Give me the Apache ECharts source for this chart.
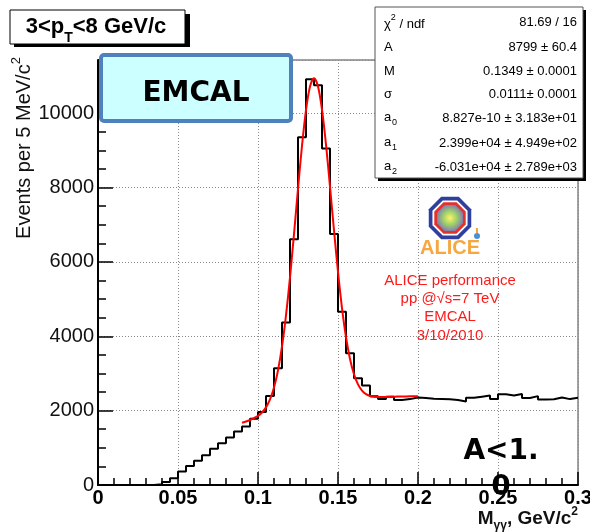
<!DOCTYPE html>
<html>
<head>
<meta charset="utf-8">
<script src="https://cdn.jsdelivr.net/npm/echarts@6/dist/echarts.min.js"></script>
<style>
  html, body { margin: 0; padding: 0; background: #fff; }
  #chart { width: 590px; height: 532px; }
</style>
</head>
<body>
<div id="chart"></div>
<script>
// Two-photon invariant mass, events per 5 MeV/c^2 bin from 0 to 0.3 GeV/c^2
const binStart = 0;
const binWidth = 0.005;
const counts = [
  0, 0, 0, 0, 0, 0, 0, 20, 80, 180,
  360, 510, 655, 800, 975, 1120, 1275, 1440, 1570, 1785,
  1960, 2395, 3140, 4370, 6610, 9350, 10910, 10750, 9050, 6750,
  4660, 3540, 2870, 2675, 2390, 2310, 2375, 2285, 2310, 2355,
  2340, 2320, 2315, 2305, 2285, 2245, 2345, 2375, 2405, 2315,
  2440, 2410, 2445, 2340, 2390, 2300, 2305, 2355, 2310, 2345
];

// Gaussian + second-order polynomial fit, sampled over the fit range
const fitMass = [
  0.09, 0.095, 0.1, 0.1025, 0.105, 0.1075, 0.11, 0.1125, 0.115, 0.1175,
  0.12, 0.1225, 0.125, 0.1275, 0.13, 0.1325, 0.135, 0.1375, 0.14, 0.1425,
  0.145, 0.1475, 0.15, 0.1525, 0.155, 0.1575, 0.16, 0.1625, 0.165, 0.1675,
  0.17, 0.1725, 0.175, 0.18, 0.185, 0.19, 0.195, 0.2
];
const fitValue = [
  1673, 1748, 1859, 1950, 2088, 2300, 2620, 3084, 3725, 4561,
  5584, 6749, 7968, 9124, 10082, 10716, 10938, 10719, 10094, 9155,
  8027, 6846, 5730, 4759, 3977, 3390, 2977, 2706, 2539, 2444,
  2395, 2372, 2364, 2366, 2374, 2381, 2385, 2386
];

const xTickValues = [0, 0.05, 0.1, 0.15, 0.2, 0.25, 0.3];
const yTickValues = [0, 2000, 4000, 6000, 8000, 10000];

const statNames = ['A', 'M', 'σ'];
const statValues = [
  '81.69 / 16', '8799 ± 60.4', '0.1349 ± 0.0001', '0.0111± 0.0001',
  '8.827e-10 ± 3.183e+01', '2.399e+04 ± 4.949e+02', '-6.031e+04 ± 2.789e+03'
];
const polyIndex = ['0', '1', '2'];
const infoLines = ['ALICE performance', 'pp @√s=7 TeV', 'EMCAL', '3/10/2010'];

const Y_MAX = 11430;
const SANS = 'Liberation Sans, Arial, Helvetica, sans-serif';
const BOLD = 'DejaVu Sans, sans-serif';

// Step outline: each bin's low edge with its content, closed at the upper edge
const histData = counts.map((c, i) => [+(binStart + i * binWidth).toFixed(4), c]);
histData.push([+(binStart + counts.length * binWidth).toFixed(4), counts[counts.length - 1]]);
const fitData = fitMass.map((m, i) => [m, fitValue[i]]);

function octagon(cx, cy, r) {
  const pts = [];
  for (let k = 0; k < 8; k++) {
    const a = Math.PI / 8 + k * Math.PI / 4;
    pts.push([cx + r * Math.cos(a), cy + r * Math.sin(a)]);
  }
  return pts;
}

const chart = echarts.init(document.getElementById('chart'), null, { renderer: 'canvas' });

const grid = { left: 98, right: 12, top: 60, bottom: 47 };
const dotted = { color: '#8a8a8a', type: [1, 2], width: 1 };

// Fit statistics box rows
const statRowsY = [22, 47, 71, 94, 118, 143, 167];
const statGraphics = [];
statGraphics.push({
  type: 'text', left: 384, top: statRowsY[0] - 9, z: 102,
  style: {
    text: '{n|χ}{s|2}{n| / ndf}', fill: '#000',
    rich: {
      n: { fontFamily: SANS, fontSize: 13, lineHeight: 18, verticalAlign: 'bottom' },
      s: { fontFamily: SANS, fontSize: 9, lineHeight: 11, verticalAlign: 'top' }
    }
  }
});
statNames.forEach((n, i) => {
  statGraphics.push({
    type: 'text', x: 384, y: statRowsY[i + 1], z: 102,
    style: { text: n, fontFamily: SANS, fontSize: 13, fill: '#000', verticalAlign: 'middle' }
  });
});
polyIndex.forEach((p, i) => {
  const y = statRowsY[i + 4];
  statGraphics.push({
    type: 'text', x: 384, y: y - 1, z: 102,
    style: { text: 'a', fontFamily: SANS, fontSize: 13, fill: '#000', verticalAlign: 'middle' }
  });
  statGraphics.push({
    type: 'text', x: 392, y: y + 5, z: 102,
    style: { text: p, fontFamily: SANS, fontSize: 9, fill: '#000', verticalAlign: 'middle' }
  });
});
statValues.forEach((v, i) => {
  statGraphics.push({
    type: 'text', x: 577, y: statRowsY[i], z: 102,
    style: { text: v, fontFamily: SANS, fontSize: 13, fill: '#000', align: 'right', verticalAlign: 'middle' }
  });
});

const infoGraphics = infoLines.map((t, i) => ({
  type: 'text', x: 450, y: [281, 299, 317, 336][i], z: 90,
  style: { text: t, fontFamily: SANS, fontSize: 15, fill: '#ff1a1a', align: 'center', verticalAlign: 'middle' }
}));

const option = {
  animation: false,
  backgroundColor: '#fff',
  grid: Object.assign({ show: true, borderColor: '#444', borderWidth: 1, containLabel: false, outerBoundsMode: 'none' }, grid),
  xAxis: [
    {
      type: 'value', min: 0, max: 0.3, interval: 0.05, position: 'bottom',
      axisLine: { show: true, onZero: false, lineStyle: { color: '#000', width: 2 } },
      axisTick: { show: true, inside: true, length: 13, lineStyle: { color: '#000', width: 1.5 } },
      axisLabel: {
        margin: 3, color: '#000', fontFamily: SANS, fontWeight: 'bold', fontSize: 20,
        formatter: v => {
          const hit = xTickValues.find(t => Math.abs(t - v) < 1e-9);
          return hit === undefined ? '' : String(hit);
        }
      },
      splitLine: { show: true, lineStyle: dotted }
    },
    {
      type: 'value', min: 0, max: 0.3, interval: 0.01, position: 'bottom',
      axisLine: { show: false },
      axisTick: { show: true, inside: true, length: 7, lineStyle: { color: '#000', width: 1.5 } },
      axisLabel: { show: false },
      splitLine: { show: false }
    }
  ],
  yAxis: [
    {
      type: 'value', min: 0, max: Y_MAX, interval: 2000, position: 'left',
      axisLine: { show: true, onZero: false, lineStyle: { color: '#000', width: 2 } },
      axisTick: { show: true, inside: true, length: 15, lineStyle: { color: '#000', width: 1.5 } },
      axisLabel: {
        margin: 4, color: '#111', fontFamily: SANS, fontSize: 20,
        formatter: v => (yTickValues.indexOf(v) >= 0 ? String(v) : '')
      },
      splitLine: { show: true, lineStyle: dotted }
    },
    {
      type: 'value', min: 0, max: Y_MAX, interval: 500, position: 'left',
      axisLine: { show: false },
      axisTick: { show: true, inside: true, length: 8, lineStyle: { color: '#000', width: 1.5 } },
      axisLabel: { show: false },
      splitLine: { show: false }
    }
  ],
  series: [
    {
      name: 'counts', type: 'line', xAxisIndex: 0, yAxisIndex: 0,
      step: 'end', data: histData, symbol: 'none', z: 3,
      lineStyle: { color: '#000', width: 2 }
    },
    {
      name: 'fit', type: 'line', xAxisIndex: 0, yAxisIndex: 0,
      smooth: 0.3, data: fitData, symbol: 'none', z: 4,
      lineStyle: { color: '#ff0000', width: 2 }
    }
  ],
  graphic: [
    // pT bin label with drop shadow
    { type: 'rect', shape: { x: 14, y: 14, width: 176, height: 33 }, style: { fill: '#000' }, z: 100 },
    { type: 'rect', shape: { x: 10, y: 10, width: 175, height: 34 }, style: { fill: '#fff', stroke: '#000', lineWidth: 1 }, z: 101 },
    {
      type: 'text', x: 96, y: 27, z: 102,
      style: {
        text: '{m|3<p}{s|T}{m|<8 GeV/c}', align: 'center', verticalAlign: 'middle', fill: '#000',
        rich: {
          m: { fontFamily: SANS, fontWeight: 'bold', fontSize: 22, lineHeight: 36, verticalAlign: 'middle' },
          s: { fontFamily: SANS, fontWeight: 'bold', fontSize: 14, lineHeight: 14, verticalAlign: 'bottom' }
        }
      }
    },
    // EMCAL tag
    { type: 'rect', shape: { x: 101, y: 55, width: 190, height: 66, r: 3 }, style: { fill: '#ccffff', stroke: '#4f81bd', lineWidth: 4 }, z: 100 },
    {
      type: 'text', x: 196, y: 94, z: 101,
      style: { text: 'EMCAL', fontFamily: BOLD, fontWeight: 'bold', fontSize: 28, fill: '#000', align: 'center', verticalAlign: 'middle' }
    },
    // fit statistics box
    { type: 'rect', shape: { x: 378, y: 10, width: 208, height: 171 }, style: { fill: '#000' }, z: 100 },
    { type: 'rect', shape: { x: 375, y: 7, width: 208, height: 171 }, style: { fill: '#fff', stroke: '#555', lineWidth: 1 }, z: 101 },
    ...statGraphics,
    // experiment logo
    { type: 'polygon', shape: { points: octagon(450, 218, 23) }, style: { fill: '#2f3f9e' }, z: 90 },
    { type: 'polygon', shape: { points: octagon(450, 218, 19) }, style: { fill: '#fff' }, z: 91 },
    { type: 'polygon', shape: { points: octagon(450, 218, 17) }, style: { fill: '#e2322c' }, z: 92 },
    {
      type: 'polygon', shape: { points: octagon(450, 218, 14) }, z: 93,
      style: {
        fill: new echarts.graphic.RadialGradient(0.5, 0.5, 0.6, [
          { offset: 0, color: '#fff36a' }, { offset: 0.45, color: '#9ccf6a' }, { offset: 1, color: '#7a63c9' }
        ])
      }
    },
    { type: 'circle', shape: { cx: 477, cy: 236, r: 3 }, style: { fill: '#4a90d9' }, z: 93 },
    { type: 'rect', shape: { x: 476, y: 228, width: 2, height: 5 }, style: { fill: '#f5a43a' }, z: 93 },
    {
      type: 'text', x: 450, y: 248, z: 93,
      style: { text: 'ALICE', fontFamily: SANS, fontWeight: 'bold', fontSize: 20, fill: '#f7a740', align: 'center', verticalAlign: 'middle' }
    },
    ...infoGraphics,
    // acceptance cut note
    {
      type: 'text', x: 501, y: 452, z: 110,
      style: { text: 'A<1.', fontFamily: BOLD, fontWeight: 'bold', fontSize: 28, fill: '#000', align: 'center', verticalAlign: 'middle' }
    },
    {
      type: 'text', x: 501, y: 488, z: 110,
      style: { text: '0', fontFamily: BOLD, fontWeight: 'bold', fontSize: 28, fill: '#000', align: 'center', verticalAlign: 'middle' }
    },
    // axis titles
    {
      type: 'text', x: 578, y: 519, z: 105,
      style: {
        text: '{m|M}{s|γγ}{m|, GeV/c}{p|2}', align: 'right', verticalAlign: 'middle', fill: '#111',
        rich: {
          m: { fontFamily: SANS, fontWeight: 'bold', fontSize: 19, lineHeight: 26, verticalAlign: 'middle' },
          s: { fontFamily: SANS, fontWeight: 'bold', fontSize: 12, lineHeight: 12, verticalAlign: 'bottom' },
          p: { fontFamily: SANS, fontWeight: 'bold', fontSize: 12, lineHeight: 12, verticalAlign: 'top' }
        }
      }
    },
    {
      type: 'text', x: 24, y: 148, rotation: Math.PI / 2, z: 105,
      style: {
        text: '{m|Events per 5 MeV/c}{p|2}', align: 'center', verticalAlign: 'middle', fill: '#111',
        rich: {
          m: { fontFamily: SANS, fontSize: 20, lineHeight: 28, verticalAlign: 'middle' },
          p: { fontFamily: SANS, fontSize: 13, lineHeight: 13, verticalAlign: 'top' }
        }
      }
    }
  ]
};

chart.setOption(option);
</script>
</body>
</html>
